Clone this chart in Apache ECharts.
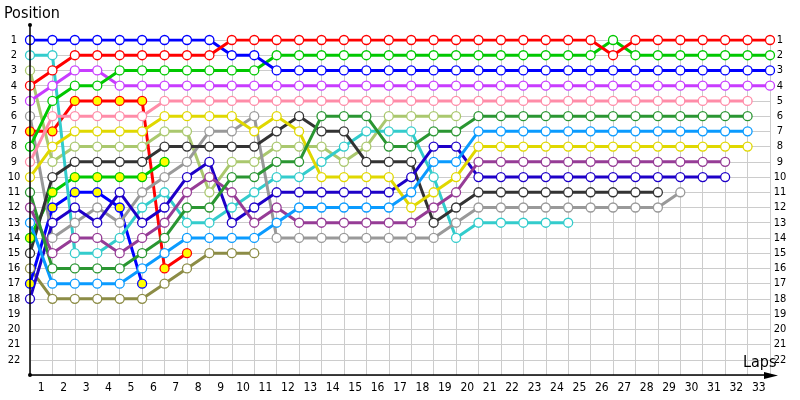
<!DOCTYPE html>
<html>
<head>
<meta charset="utf-8">
<script src="https://cdn.jsdelivr.net/npm/echarts@6/dist/echarts.min.js"></script>
<style>
  html, body { margin: 0; padding: 0; background: #fff; }
  #chart { width: 800px; height: 400px; }
</style>
</head>
<body>
<div id="chart"></div>
<script>
// lap labels on the x axis (centred between the lap marks)
const lapLabels = ['1','2','3','4','5','6','7','8','9','10','11','12','13','14','15','16','17',
  '18','19','20','21','22','23','24','25','26','27','28','29','30','31','32','33']

// position of each car at the end of lap 0, 1, 2 ...
const posBlue = [1,1,1,1,1,1,1,1,1,2,2,3,3,3,3,3,3,3,3,3,3,3,3,3,3,3,3,3,3,3,3,3,3,3]
const posRed = [4,3,2,2,2,2,2,2,2,1,1,1,1,1,1,1,1,1,1,1,1,1,1,1,1,1,2,1,1,1,1,1,1,1]
const posGreen = [8,5,4,4,3,3,3,3,3,3,3,2,2,2,2,2,2,2,2,2,2,2,2,2,2,2,1,2,2,2,2,2,2,2]
const posViolet = [5,4,3,3,4,4,4,4,4,4,4,4,4,4,4,4,4,4,4,4,4,4,4,4,4,4,4,4,4,4,4,4,4,4]
const posPink = [9,6,6,6,6,6,5,5,5,5,5,5,5,5,5,5,5,5,5,5,5,5,5,5,5,5,5,5,5,5,5,5,5]
const posDarkGreen = [11,16,16,16,16,15,14,12,12,10,10,9,9,6,6,6,8,8,7,7,6,6,6,6,6,6,6,6,6,6,6,6,6]
const posLightBlue = [13,17,17,17,17,16,15,14,14,14,14,13,12,12,12,12,12,11,9,9,7,7,7,7,7,7,7,7,7,7,7,7,7]
const posYellow = [10,8,7,7,7,7,6,6,6,6,7,6,7,10,10,10,10,12,11,10,8,8,8,8,8,8,8,8,8,8,8,8,8]
const posPurple = [12,15,14,14,15,14,13,11,10,11,13,12,13,13,13,13,13,13,12,11,9,9,9,9,9,9,9,9,9,9,9,9]
const posDarkBlue = [18,13,12,13,11,13,12,10,9,13,12,11,11,11,11,11,11,10,8,8,10,10,10,10,10,10,10,10,10,10,10,10]
const posBlack = [15,10,9,9,9,9,8,8,8,8,8,7,6,7,7,9,9,9,13,12,11,11,11,11,11,11,11,11,11]
const posGray = [6,14,13,12,13,11,10,9,7,7,6,14,14,14,14,14,14,14,14,13,12,12,12,12,12,12,12,12,12,11]
const posCyan = [2,2,15,15,14,12,11,13,13,12,11,10,10,9,8,7,7,7,10,14,13,13,13,13,13]
const posLightGreen = [3,9,8,8,8,8,7,7,11,9,9,8,8,8,9,8,6,6,6,6]
const posOlive = [16,18,18,18,18,18,17,16,15,15,15]
const posRed2 = [7,7,5,5,5,5,16,15]
const posGreen2 = [14,11,10,10,10,10,9]
const posBlue2 = [17,12,11,11,12,17]

const FONT = "'DejaVu Sans Condensed', 'Liberation Sans', sans-serif"

const cars = [
  { pos: posOlive, color: '#8c8c46', fill: '#fff' },
  { pos: posRed2, color: '#ff0000', fill: '#ffff00' },
  { pos: posGreen2, color: '#00c800', fill: '#ffff00' },
  { pos: posBlue2, color: '#0000ff', fill: '#ffff00' },
  { pos: posLightGreen, color: '#aac86e', fill: '#fff' },
  { pos: posCyan, color: '#33cccc', fill: '#fff' },
  { pos: posGray, color: '#999999', fill: '#fff' },
  { pos: posBlack, color: '#333333', fill: '#fff' },
  { pos: posDarkBlue, color: '#1e00c8', fill: '#fff' },
  { pos: posPurple, color: '#963c96', fill: '#fff' },
  { pos: posYellow, color: '#e0d800', fill: '#fff' },
  { pos: posLightBlue, color: '#0a9bff', fill: '#fff' },
  { pos: posDarkGreen, color: '#2a9632', fill: '#fff' },
  { pos: posPink, color: '#ff8ca8', fill: '#fff' },
  { pos: posViolet, color: '#c83cff', fill: '#fff' },
  { pos: posGreen, color: '#00c800', fill: '#fff' },
  { pos: posBlue, color: '#0000ff', fill: '#fff' },
  { pos: posRed, color: '#ff0000', fill: '#fff' }
]

const chart = echarts.init(document.getElementById('chart'))

const series = cars.map(c => ({
  type: 'line',
  xAxisIndex: 0,
  yAxisIndex: 0,
  data: c.pos.map((p, lap) => [lap, p]),
  symbol: 'circle',
  symbolSize: 9,
  showSymbol: true,
  lineStyle: { color: c.color, width: 3 },
  itemStyle: { color: c.fill, borderColor: c.color, borderWidth: 1.3 },
  emphasis: { disabled: true },
  silent: true
}))

const gridLine = { show: true, lineStyle: { color: '#cccccc', width: 1 } }

chart.setOption({
  animation: false,
  grid: { left: 30, right: 30, top: 40, bottom: 25 },
  xAxis: [
    {
      type: 'value', min: 0, max: 33, interval: 1,
      axisLine: { show: false }, axisTick: { show: false },
      axisLabel: { show: false },
      splitLine: gridLine
    },
    {
      type: 'category', data: lapLabels, position: 'bottom', boundaryGap: true,
      axisLine: { show: false }, axisTick: { show: false },
      splitLine: { show: false },
      axisLabel: { interval: 0, fontSize: 12, color: '#000', margin: 7, fontFamily: FONT }
    }
  ],
  yAxis: [
    {
      type: 'value', inverse: true, min: 1, max: 23, interval: 1, position: 'left',
      axisLine: { show: false }, axisTick: { show: false },
      splitLine: gridLine,
      axisLabel: {
        formatter: v => (v <= 22 ? String(v) : ''),
        fontSize: 11, color: '#000', align: 'center', margin: 16, fontFamily: FONT
      }
    },
    {
      type: 'value', inverse: true, min: 1, max: 23, interval: 1, position: 'right',
      axisLine: { show: false }, axisTick: { show: false },
      splitLine: { show: false },
      axisLabel: {
        formatter: v => (v <= 22 ? String(v) : ''),
        fontSize: 11, color: '#000', align: 'center', margin: 10, fontFamily: FONT
      }
    }
  ],
  graphic: [
    // axis lines with the small end marks
    { type: 'line', shape: { x1: 30, y1: 25, x2: 30, y2: 375 }, style: { stroke: '#000', lineWidth: 1.5 }, z: 50 },
    { type: 'line', shape: { x1: 30, y1: 375, x2: 770, y2: 375 }, style: { stroke: '#000', lineWidth: 1.5 }, z: 50 },
    { type: 'polygon', shape: { points: [[764, 372], [778, 375.5], [764, 379]] }, style: { fill: '#000' }, z: 50 },
    { type: 'circle', shape: { cx: 30, cy: 25, r: 2 }, style: { fill: '#000' }, z: 50 },
    { type: 'circle', shape: { cx: 30, cy: 375, r: 2 }, style: { fill: '#000' }, z: 50 },
    {
      type: 'text', left: 4, top: 6, z: 50,
      style: { text: 'Position', fontSize: 16, fill: '#000', fontFamily: FONT }
    },
    {
      type: 'text', left: 743, top: 355, z: 50,
      style: { text: 'Laps', fontSize: 16, fill: '#000', fontFamily: FONT }
    }
  ],
  series: series
})
</script>
</body>
</html>
